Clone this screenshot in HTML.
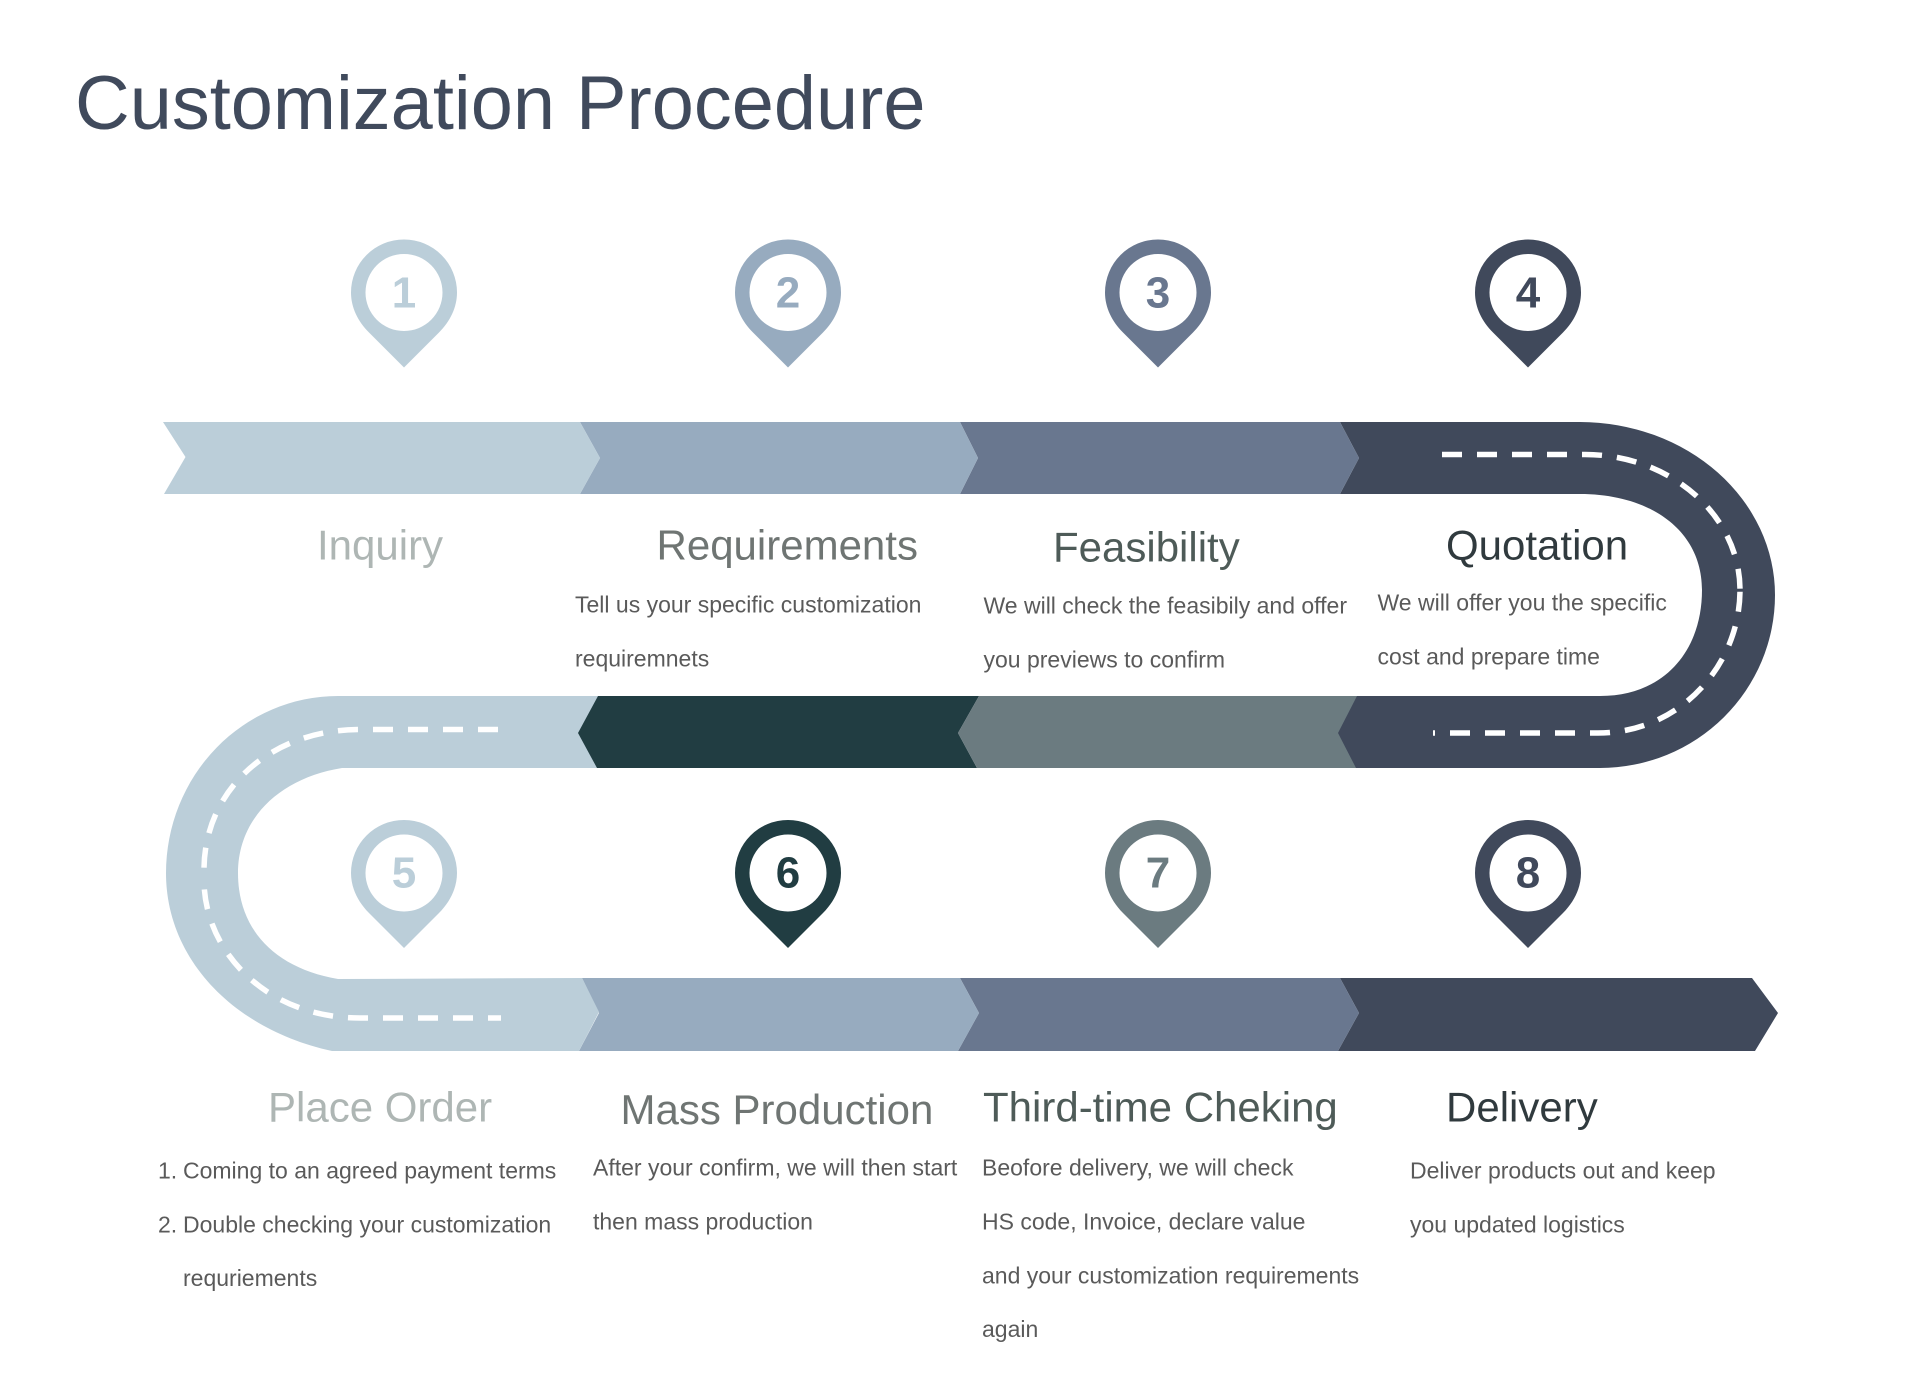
<!DOCTYPE html>
<html><head><meta charset="utf-8"><style>html,body{margin:0;padding:0;background:#fff}svg{display:block}text{font-family:"Liberation Sans",Arial,sans-serif}.h{font-size:42px}.b{font-size:23px;fill:#5a5a5a}.n{font-size:44px;font-weight:bold;text-anchor:middle}</style></head><body>
<svg width="1920" height="1397" viewBox="0 0 1920 1397" xmlns="http://www.w3.org/2000/svg">
<defs><path id="pin" fill-rule="evenodd" d="M0,75 L-35,40 C-46,29 -53,15 -53,0 A53,53 0 0 1 53,0 C53,15 46,29 35,40 Z M38.5,0 A38.5,38.5 0 1 0 -38.5,0 A38.5,38.5 0 1 0 38.5,0 Z"/></defs>
<rect width="1920" height="1397" fill="#fff"/>
<text x="75" y="129" font-size="75.75" fill="#404a5c">Customization Procedure</text>
<!-- row 3 -->
<polygon points="1340,978 1752,978 1778,1013 1755,1051 1338,1051 1359,1013" fill="#40495b"/>
<polygon points="960,978 1340,978 1359,1013 1338,1051 958,1051 979,1013" fill="#69778f"/>
<polygon points="582,978 960,978 979,1013 958,1051 579,1051 599,1013" fill="#97abbf"/>
<!-- light road -->
<path d="M582,978 L599,1012 L579,1051 L332,1051 C235,1030 166,960 166,873 A172,177 0 0 1 338,696 L598,696 L598,768 L342,768 C280,778 238,818 238,873 C238,930 275,968 338,979 Z" fill="#bbced9"/>
<g fill="none" stroke="#fff" stroke-width="5.5" stroke-dasharray="20 15">
<path d="M498,729.5 L360,729.5 C270,729.5 204,790 204,870 L204,880"/>
<path d="M501,1018 L360,1018 C265,1018 204,950 204,880" stroke-dashoffset="7"/>
</g>
<!-- row 2 -->
<polygon points="598,696 979,696 958,733 977,768 597,768 578,733" fill="#213d42"/>
<polygon points="979,696 1357,696 1356,768 977,768 958,733" fill="#6b7b80"/>
<!-- navy road -->
<path d="M1340,422 L1580,422 A195,173 0 0 1 1775,595 A175,173 0 0 1 1600,768 L1356,768 L1338,733 L1357,696 L1600,696 C1665,696 1702,650 1702,590 C1702,530 1650,494 1580,494 L1340,494 L1359,458 Z" fill="#40495b"/>
<g fill="none" stroke="#fff" stroke-width="5.5" stroke-dasharray="20 15">
<path d="M1442,454.5 L1585,454.5 C1670,454.5 1740,515 1740,590"/>
<path d="M1433,733 L1598,733 C1680,733 1740,665 1740,590" stroke-dashoffset="18"/>
</g>
<!-- row 1 -->
<polygon points="960,422 1340,422 1359,458 1340,494 960,494 978,458" fill="#69778f"/>
<polygon points="580,422 960,422 978,458 960,494 580,494 600,458" fill="#97abbf"/>
<polygon points="163,422 580,422 600,458 580,494 164,494 185.5,457" fill="#bbced9"/>
<!-- pins -->
<use href="#pin" x="404" y="292.5" fill="#bbced9"/>
<use href="#pin" x="788" y="292.5" fill="#97abbf"/>
<use href="#pin" x="1158" y="292.5" fill="#69778f"/>
<use href="#pin" x="1528" y="292.5" fill="#40495b"/>
<use href="#pin" x="404" y="873" fill="#bbced9"/>
<use href="#pin" x="788" y="873" fill="#213d42"/>
<use href="#pin" x="1158" y="873" fill="#6b7b80"/>
<use href="#pin" x="1528" y="873" fill="#40495b"/>
<text class="n" x="404" y="307.5" fill="#bbced9">1</text>
<text class="n" x="788" y="307.5" fill="#97abbf">2</text>
<text class="n" x="1158" y="307.5" fill="#69778f">3</text>
<text class="n" x="1528" y="307.5" fill="#40495b">4</text>
<text class="n" x="404" y="887.5" fill="#bbced9">5</text>
<text class="n" x="788" y="887.5" fill="#213d42">6</text>
<text class="n" x="1158" y="887.5" fill="#6b7b80">7</text>
<text class="n" x="1528" y="887.5" fill="#40495b">8</text>
<!-- headings -->
<text class="h" x="317" y="559.5" fill="#aeb6b4">Inquiry</text>
<text class="h" x="656.5" y="559.5" fill="#6f7573">Requirements</text>
<text class="h" x="1053" y="561.5" fill="#4e5b58">Feasibility</text>
<text class="h" x="1446" y="559.5" fill="#303a3e">Quotation</text>
<text class="h" x="268" y="1121.5" fill="#aeb6b4">Place Order</text>
<text class="h" x="620.5" y="1124" fill="#6f7573">Mass Production</text>
<text class="h" x="983" y="1121.5" fill="#4e5b58">Third-time Cheking</text>
<text class="h" x="1446" y="1121.5" fill="#303a3e">Delivery</text>
<!-- body -->
<text class="b" x="578.5" y="612.5" dx="-3.5">Tell us your specific customization</text>
<text class="b" x="575" y="666.5">requiremnets</text>
<text class="b" x="983.5" y="613.5">We will check the feasibily and offer</text>
<text class="b" x="983.5" y="667.5">you previews to confirm</text>
<text class="b" x="1384" y="610.5" dx="-6.5">We will offer you the specific</text>
<text class="b" x="1377.5" y="664.5">cost and prepare time</text>
<text class="b" x="158" y="1178.5">1.</text>
<text class="b" x="183" y="1178.5">Coming to an agreed payment terms</text>
<text class="b" x="158" y="1232.5">2.</text>
<text class="b" x="183" y="1232.5">Double checking your customization</text>
<text class="b" x="183" y="1286">requriements</text>
<text class="b" x="593" y="1175.5">After your confirm, we will then start</text>
<text class="b" x="593" y="1229.5">then mass production</text>
<text class="b" x="982" y="1175.5">Beofore delivery, we will check</text>
<text class="b" x="982" y="1229.5">HS code, Invoice, declare value</text>
<text class="b" x="982" y="1283.5">and your customization requirements</text>
<text class="b" x="982" y="1337">again</text>
<text class="b" x="1410" y="1178.5">Deliver products out and keep</text>
<text class="b" x="1410" y="1232.5">you updated logistics</text>
</svg>
</body></html>
